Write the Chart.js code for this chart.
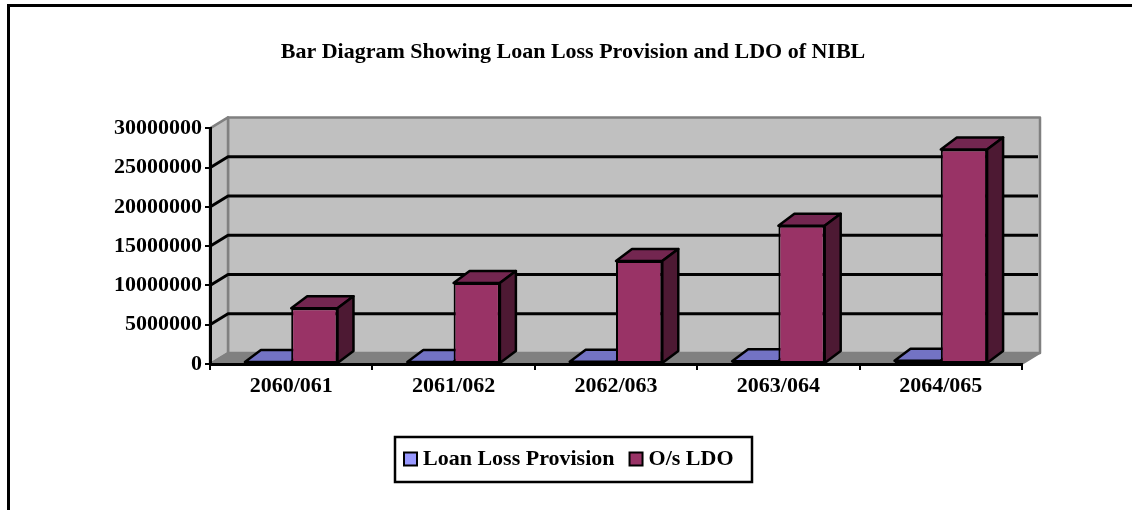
<!DOCTYPE html>
<html>
<head>
<meta charset="utf-8">
<script src="https://cdn.jsdelivr.net/npm/chart.js@4.4.1/dist/chart.umd.min.js"></script>
<style>
  body { margin: 0; background: #fff; }
  canvas { display: block; }
</style>
</head>
<body>
<canvas id="myChart" width="1132" height="510"></canvas>
<script>
const years = ['2060/061', '2061/062', '2062/063', '2063/064', '2064/065'];
const loanLossProvision = [250000, 260000, 300000, 350000, 400000];
const osLdo = [7100000, 10300000, 13100000, 17600000, 27300000];
const seriesNames = ['Loan Loss Provision', 'O/s LDO'];

const FONT = "'Liberation Serif', 'Times New Roman', serif";
// depth of walls and of the columns
const WDX = 18, WDY = -11;
const BDX = 16, BDY = -12;

const ctx = document.getElementById('myChart');

function poly(c, pts, fill, stroke, lw) {
  c.beginPath();
  c.moveTo(pts[0][0], pts[0][1]);
  for (let i = 1; i < pts.length; i++) c.lineTo(pts[i][0], pts[i][1]);
  c.closePath();
  if (fill) { c.fillStyle = fill; c.fill(); }
  if (stroke) { c.strokeStyle = stroke; c.lineWidth = lw; c.stroke(); }
}

const threeD = {
  id: 'threeD',
  afterLayout(chart) {
    // let the long y labels spill left of the padded scale box
    chart.scales.y.left = 0;
  },
  beforeDraw(chart) {
    const c = chart.ctx;
    const { left, right, top, bottom } = chart.chartArea;
    c.save();
    c.fillStyle = '#fff';
    c.fillRect(0, 0, chart.width, chart.height);

    // frame
    c.strokeStyle = '#000';
    c.lineWidth = 3;
    c.beginPath();
    c.moveTo(8.5, chart.height);
    c.lineTo(8.5, 5.5);
    c.lineTo(chart.width, 5.5);
    c.stroke();

    c.lineJoin = 'round';
    // back wall, side wall, floor
    poly(c, [[left + WDX, top + WDY], [right + WDX, top + WDY], [right + WDX, bottom + WDY], [left + WDX, bottom + WDY]], '#C0C0C0', '#808080', 2.5);
    poly(c, [[left, top], [left + WDX, top + WDY], [left + WDX, bottom + WDY], [left, bottom]], '#C0C0C0', '#808080', 2.5);
    poly(c, [[left, bottom], [left + WDX, bottom + WDY], [right + WDX, bottom + WDY], [right, bottom]], '#808080', '#808080', 2);

    // gridlines on the walls
    const y = chart.scales.y;
    c.strokeStyle = '#000';
    c.lineWidth = 3;
    y.ticks.forEach(t => {
      if (t.value <= y.min || t.value >= y.max) return;
      const py = y.getPixelForValue(t.value);
      c.beginPath();
      c.moveTo(left, py);
      c.lineTo(left + WDX, py + WDY);
      c.lineTo(right + WDX - 2, py + WDY);
      c.stroke();
    });
    c.restore();
  },
  beforeDatasetsDraw(chart) {
    const c = chart.ctx;
    c.save();
    c.lineJoin = 'round';
    chart.data.datasets.forEach((ds, i) => {
      chart.getDatasetMeta(i).data.forEach(bar => {
        const l = bar.x - bar.width / 2, r = bar.x + bar.width / 2;
        const t = bar.y, b = bar.base;
        poly(c, [[l, t], [l + BDX, t + BDY], [r + BDX, t + BDY], [r, t]], ds.topColor, '#000', 2.5);
        poly(c, [[r, t], [r + BDX, t + BDY], [r + BDX, b + BDY], [r, b]], ds.sideColor, '#000', 2.5);
      });
    });
    c.restore();
  },
  afterDraw(chart) {
    const c = chart.ctx;
    c.save();
    // legend
    const bx = 395, by = 437, bw = 357, bh = 45;
    c.strokeStyle = '#000';
    c.lineWidth = 2.5;
    c.strokeRect(bx, by, bw, bh);
    c.font = 'bold 22px ' + FONT;
    c.textBaseline = 'middle';
    let x = bx + 9;
    const cy = by + bh / 2;
    chart.data.datasets.forEach(ds => {
      c.fillStyle = ds.legendColor;
      c.fillRect(x, cy - 7, 13, 13);
      c.lineWidth = 2;
      c.strokeStyle = '#000';
      c.strokeRect(x, cy - 7, 13, 13);
      x += 19;
      c.fillStyle = '#000';
      c.fillText(ds.label, x, cy);
      x += c.measureText(ds.label).width + 15;
    });
    c.restore();
  }
};

new Chart(ctx, {
  type: 'bar',
  data: {
    labels: years,
    datasets: [{
      label: seriesNames[0],
      data: loanLossProvision,
      backgroundColor: '#9999FF',
      legendColor: '#9999FF',
      topColor: '#7373C4',
      sideColor: '#4D4D80',
      borderColor: '#000',
      borderWidth: 2,
      borderSkipped: false
    },
    {
      label: seriesNames[1],
      data: osLdo,
      backgroundColor: '#993366',
      legendColor: '#993366',
      topColor: '#732650',
      sideColor: '#4D1933',
      borderColor: '#000',
      borderWidth: 2,
      borderSkipped: false
    }]
  },
  options: {
    responsive: false,
    animation: false,
    categoryPercentage: 0.57,
    barPercentage: 1.0,
    layout: { padding: { left: 124, right: 110, top: 39, bottom: 0 } },
    plugins: {
      legend: { display: false },
      tooltip: { enabled: false },
      title: {
        display: true,
        text: 'Bar Diagram Showing Loan Loss Provision and LDO of NIBL',
        color: '#000',
        font: { family: FONT, size: 22, weight: 'bold' },
        padding: { top: 0, bottom: 63 }
      }
    },
    scales: {
      x: {
        afterFit: s => { s.height = 146; },
        grid: { display: true, drawOnChartArea: false, drawTicks: true, tickLength: 6, color: '#000', lineWidth: 2, offset: true },
        border: { display: true, color: '#000', width: 3 },
        ticks: { color: '#000', padding: 3, font: { family: FONT, size: 22, weight: 'bold' } }
      },
      y: {
        min: 0,
        max: 30000000,
        afterFit: s => { s.width = 86; },
        grid: { display: true, drawOnChartArea: false, drawTicks: true, tickLength: 5, color: '#000', lineWidth: 2 },
        border: { display: true, color: '#000', width: 3 },
        ticks: {
          stepSize: 5000000,
          color: '#000',
          padding: 3,
          font: { family: FONT, size: 22, weight: 'bold' },
          callback: v => String(v)
        }
      }
    }
  },
  plugins: [threeD]
});
</script>
</body>
</html>
